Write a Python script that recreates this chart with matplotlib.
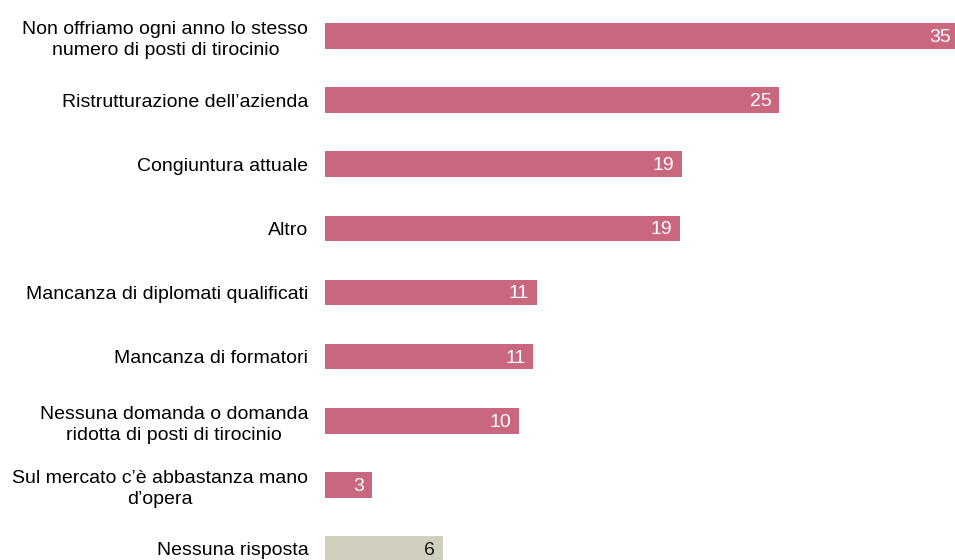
import matplotlib.pyplot as plt

plt.rcParams["font.family"] = ["Liberation Sans", "DejaVu Sans"]

categories = [
    "Non offriamo ogni anno lo stesso\nnumero di posti di tirocinio",
    "Ristrutturazione dell\u2019azienda",
    "Congiuntura attuale",
    "Altro",
    "Mancanza di diplomati qualificati",
    "Mancanza di formatori",
    "Nessuna domanda o domanda\nridotta di posti di tirocinio",
    "Sul mercato c\u2019\u00e8 abbastanza mano\nd\u2019opera",
    "Nessuna risposta",
]
# bar lengths (labels are the rounded figures)
values = [35.0, 25.1, 19.7, 19.6, 11.7, 11.5, 10.7, 2.6, 6.5]
value_labels = ["35", "25", "19", "19", "11", "11", "10", "3", "6"]

pink = "#C9677F"
grey = "#D0CFBE"
colors = [pink] * 8 + [grey]
text_colors = ["white"] * 8 + ["#1a1a1a"]

fig = plt.figure(figsize=(9.55, 5.6), dpi=100)
ax = fig.add_axes([325 / 955, 0, 630 / 955, 1])

pos = list(range(len(categories)))
ax.barh(pos, values, height=0.4, color=colors, edgecolor="none")

for y, v, lab, tc in zip(pos, values, value_labels, text_colors):
    ax.annotate(lab, (v, y), xytext=(-5.5, -1), textcoords="offset points",
                ha="right", va="center", fontsize=14, color=tc,
                annotation_clip=False)

ax.set_xlim(0, 630 / 18.1)
ax.set_ylim(8 + 11 / 64.1, -36 / 64.1)
ax.set_yticks(pos)
ax.set_yticklabels(categories, fontsize=14, multialignment="center",
                   linespacing=1.3)
ax.tick_params(axis="y", length=0, pad=12)
ax.set_xticks([])
for s in ax.spines.values():
    s.set_visible(False)

plt.savefig("out.png", dpi=100)
